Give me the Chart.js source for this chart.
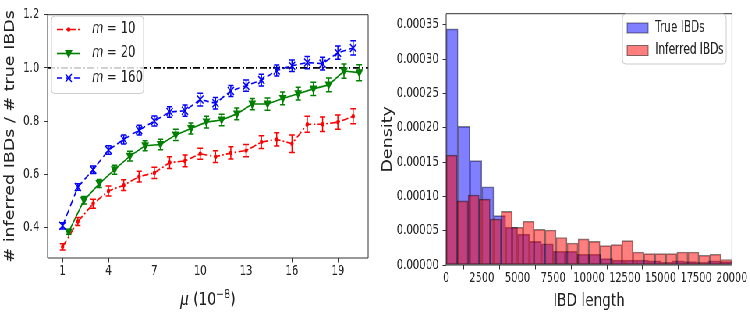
<!DOCTYPE html>
<html>
<head>
<meta charset="utf-8">
<title>IBD charts</title>
<script src="https://cdn.jsdelivr.net/npm/chart.js@4/dist/chart.umd.min.js"></script>
<style>
html, body { margin: 0; padding: 0; background: #fff; overflow: hidden; }
/* the figure looks squeezed sideways, so draw wide and squeeze it */
#wrap { position: absolute; left: 0; top: 0; width: 962px; height: 315px; transform: scaleX(0.78); transform-origin: 0 0; }
#wrap canvas { position: absolute; top: 0; }
</style>
</head>
<body>
<div id="wrap">
  <canvas id="left" width="481" height="315" style="left:0"></canvas>
  <canvas id="right" width="481" height="315" style="left:481px"></canvas>
</div>
<script>
// left panel: ratio of inferred to true IBD counts
const muInt = [1, 2, 3, 4, 5, 6, 7, 8, 9, 10, 11, 12, 13, 14, 15, 16, 17, 18, 19, 20];
const muShift = [1.4, 2.4, 3.4, 4.4, 5.4, 6.4, 7.4, 8.4, 9.4, 10.4, 11.4, 12.4, 13.4, 14.4, 15.4, 16.4, 17.4, 18.4, 19.4, 20.4];
const m10 = [0.327, 0.422, 0.489, 0.537, 0.559, 0.591, 0.605, 0.644, 0.650, 0.677, 0.666, 0.680, 0.689, 0.721, 0.731, 0.715, 0.788, 0.788, 0.796, 0.818];
const m10Err = [0.012, 0.015, 0.017, 0.019, 0.020, 0.020, 0.021, 0.022, 0.022, 0.021, 0.022, 0.023, 0.023, 0.024, 0.025, 0.033, 0.030, 0.027, 0.027, 0.028];
const m20 = [0.383, 0.502, 0.565, 0.617, 0.668, 0.707, 0.712, 0.748, 0.772, 0.796, 0.804, 0.827, 0.864, 0.864, 0.885, 0.903, 0.921, 0.936, 0.988, 0.982];
const m20Err = [0.009, 0.014, 0.015, 0.017, 0.018, 0.019, 0.020, 0.021, 0.021, 0.022, 0.022, 0.022, 0.021, 0.023, 0.024, 0.024, 0.025, 0.026, 0.027, 0.030];
const m160 = [0.406, 0.552, 0.617, 0.691, 0.731, 0.766, 0.800, 0.834, 0.839, 0.881, 0.867, 0.913, 0.933, 0.954, 0.990, 1.008, 1.020, 1.016, 1.057, 1.075];
const m160Err = [0.012, 0.012, 0.014, 0.016, 0.017, 0.018, 0.019, 0.020, 0.021, 0.024, 0.022, 0.021, 0.021, 0.022, 0.021, 0.022, 0.023, 0.024, 0.025, 0.027];
const muTicks = [1, 4, 7, 10, 13, 16, 19];
const ratioTicks = [0.4, 0.6, 0.8, 1.0, 1.2];

// right panel: IBD length histograms (density)
const trueBins = [0, 833, 1667, 2500, 3333, 4167, 5000, 5833, 6667, 7500, 8333, 9167, 10000, 10833, 11667, 12500, 13333, 14167, 15000, 15833, 16667, 17500, 18333, 19167];
const trueDensity = [0.000344, 0.000202, 0.000152, 0.000114, 0.000072, 0.000055, 0.000045, 0.0000345, 0.000031, 0.000020, 0.000020, 0.0000156, 0.0000156, 0.0000094, 0.000007, 0.000007, 0.000007, 0.000006, 0.000004, 0.000006, 0.000005, 0.000004, 0.000006, 0.000005];
const inferredBins = [0, 769, 1538, 2308, 3077, 3846, 4615, 5385, 6154, 6923, 7692, 8462, 9231, 10000, 10769, 11538, 12308, 13077, 13846, 14615, 15385, 16154, 16923, 17692, 18462, 19231];
const inferredDensity = [0.000160, 0.0000935, 0.000102, 0.000096, 0.000067, 0.000078, 0.000055, 0.0000637, 0.000052, 0.000051, 0.000040, 0.000032, 0.000038, 0.0000345, 0.0000283, 0.0000297, 0.0000354, 0.0000189, 0.0000165, 0.0000165, 0.0000165, 0.0000189, 0.0000189, 0.0000142, 0.0000156, 0.000008];
const lengthTicks = [0, 2500, 5000, 7500, 10000, 12500, 15000, 17500, 20000];
const densityTicks = [0, 0.00005, 0.0001, 0.00015, 0.0002, 0.00025, 0.0003, 0.00035];

const SANS = "'DejaVu Sans', sans-serif";
const NARROW = "'DejaVu Sans Condensed', 'Liberation Sans Narrow', 'DejaVu Sans', sans-serif";
const INK = '#222';

// box around the plot area
const frame = {
  id: 'frame',
  afterDraw(chart, args, opts) {
    const { ctx, chartArea: a } = chart;
    ctx.save();
    ctx.lineWidth = 1;
    ctx.strokeStyle = '#333';
    ctx.beginPath();
    ctx.moveTo(a.right, a.top); ctx.lineTo(a.left, a.top);
    ctx.lineTo(a.left, a.bottom); ctx.lineTo(a.right, a.bottom);
    ctx.stroke();
    ctx.strokeStyle = opts.rightColor || '#333';
    ctx.beginPath();
    ctx.moveTo(a.right, a.top); ctx.lineTo(a.right, a.bottom);
    ctx.stroke();
    ctx.restore();
  }
};

// dash-dot line at ratio 1
const refLine = {
  id: 'refLine',
  beforeDatasetsDraw(chart) {
    const { ctx, chartArea: a } = chart;
    const y = chart.scales.y.getPixelForValue(1.0);
    ctx.save();
    ctx.strokeStyle = '#000';
    ctx.lineWidth = 1.6;
    ctx.setLineDash([9, 3, 2, 3]);
    ctx.beginPath(); ctx.moveTo(a.left, y); ctx.lineTo(a.right, y); ctx.stroke();
    ctx.restore();
  }
};

// x title with italic mu and a real superscript
const muTitle = {
  id: 'muTitle',
  afterDraw(chart) {
    const { ctx, chartArea: a } = chart;
    const big = '17.5px ' + SANS, small = '12.5px ' + SANS;
    const parts = [
      ['μ', 'italic ' + big, 0],
      [' (10', big, 0],
      ['−8', small, -7],
      [')', big, 0]
    ];
    ctx.save();
    let total = 0;
    parts.forEach(p => { ctx.font = p[1]; total += ctx.measureText(p[0]).width; });
    let x = (a.left + a.right) / 2 - total / 2;
    const y = 305;
    ctx.fillStyle = INK; ctx.textBaseline = 'alphabetic';
    parts.forEach(p => {
      ctx.font = p[1];
      ctx.fillText(p[0], x, y + p[2]);
      x += ctx.measureText(p[0]).width;
    });
    ctx.restore();
  }
};

function drawMarker(ctx, kind, x, y, color) {
  ctx.save();
  ctx.setLineDash([]);
  ctx.fillStyle = color; ctx.strokeStyle = color;
  if (kind === 'dot') {
    ctx.beginPath(); ctx.arc(x, y, 2.2, 0, Math.PI * 2); ctx.fill();
  } else if (kind === 'tri') {
    ctx.beginPath(); ctx.moveTo(x - 5, y - 3.5); ctx.lineTo(x + 5, y - 3.5); ctx.lineTo(x, y + 5); ctx.closePath(); ctx.fill();
  } else {
    ctx.lineWidth = 1.5;
    ctx.beginPath(); ctx.moveTo(x - 4, y - 4); ctx.lineTo(x + 4, y + 4); ctx.moveTo(x - 4, y + 4); ctx.lineTo(x + 4, y - 4); ctx.stroke();
  }
  ctx.restore();
}

// error bars with caps, plus markers on top
const errorBars = {
  id: 'errorBars',
  afterDatasetsDraw(chart) {
    const ctx = chart.ctx, xs = chart.scales.x, ys = chart.scales.y;
    chart.data.datasets.forEach(ds => {
      ctx.save();
      ctx.strokeStyle = ds.borderColor;
      ctx.lineWidth = 1.5;
      ds.data.forEach((p, i) => {
        const px = xs.getPixelForValue(p.x);
        const lo = ys.getPixelForValue(p.y - ds.err[i]);
        const hi = ys.getPixelForValue(p.y + ds.err[i]);
        ctx.beginPath();
        ctx.moveTo(px, lo); ctx.lineTo(px, hi);
        ctx.moveTo(px - 3.5, lo); ctx.lineTo(px + 3.5, lo);
        ctx.moveTo(px - 3.5, hi); ctx.lineTo(px + 3.5, hi);
        ctx.stroke();
        drawMarker(ctx, ds.marker, px, ys.getPixelForValue(p.y), ds.borderColor);
      });
      ctx.restore();
    });
  }
};

function roundBox(ctx, x, y, w, h, r) {
  ctx.beginPath();
  ctx.moveTo(x + r, y); ctx.lineTo(x + w - r, y); ctx.quadraticCurveTo(x + w, y, x + w, y + r);
  ctx.lineTo(x + w, y + h - r); ctx.quadraticCurveTo(x + w, y + h, x + w - r, y + h);
  ctx.lineTo(x + r, y + h); ctx.quadraticCurveTo(x, y + h, x, y + h - r);
  ctx.lineTo(x, y + r); ctx.quadraticCurveTo(x, y, x + r, y);
  ctx.closePath();
}

const lineLegend = {
  id: 'lineLegend',
  afterDraw(chart) {
    const ctx = chart.ctx;
    ctx.save();
    roundBox(ctx, 66, 16, 118, 77.5, 4);
    ctx.fillStyle = 'rgba(255,255,255,0.8)'; ctx.fill();
    ctx.strokeStyle = '#cccccc'; ctx.lineWidth = 1; ctx.stroke();
    const rows = [29.5, 53.5, 78];
    chart.data.datasets.forEach((ds, i) => {
      const y = rows[i];
      ctx.strokeStyle = ds.borderColor; ctx.lineWidth = 1.6;
      ctx.setLineDash(ds.borderDash || []);
      ctx.beginPath(); ctx.moveTo(73, y); ctx.lineTo(103, y); ctx.stroke();
      drawMarker(ctx, ds.marker, 88, y, ds.borderColor);
      ctx.fillStyle = INK; ctx.textBaseline = 'middle';
      ctx.font = 'italic 15px ' + SANS;
      ctx.fillText('m', 118, y);
      const w = ctx.measureText('m').width;
      ctx.font = '15px ' + SANS;
      ctx.fillText(' = ' + ds.label, 118 + w, y);
    });
    ctx.restore();
  }
};

const histLegend = {
  id: 'histLegend',
  afterDraw(chart) {
    const ctx = chart.ctx;
    ctx.save();
    roundBox(ctx, 317, 14, 133, 50, 4);
    ctx.fillStyle = 'rgba(255,255,255,0.8)'; ctx.fill();
    ctx.strokeStyle = '#cccccc'; ctx.lineWidth = 1; ctx.stroke();
    const rows = [28, 50.5];
    chart.data.datasets.forEach((ds, i) => {
      const y = rows[i];
      ctx.fillStyle = ds.backgroundColor;
      ctx.fillRect(323, y - 5, 27, 10);
      ctx.strokeStyle = ds.borderColor; ctx.strokeRect(323, y - 5, 27, 10);
      ctx.fillStyle = INK; ctx.textBaseline = 'middle';
      ctx.font = '15px ' + NARROW;
      ctx.fillText(ds.label, 359, y);
    });
    ctx.restore();
  }
};

const tickGrid = { display: true, drawOnChartArea: false, tickLength: 4.5, color: '#333' };

new Chart(document.getElementById('left'), {
  type: 'line',
  data: {
    datasets: [
      { label: '10', marker: 'dot', data: muInt.map((x, i) => ({ x, y: m10[i] })), err: m10Err,
        borderColor: '#ff0000', borderWidth: 1.6, borderDash: [8, 3, 2, 3] },
      { label: '20', marker: 'tri', data: muShift.map((x, i) => ({ x, y: m20[i] })), err: m20Err,
        borderColor: '#008000', borderWidth: 1.6 },
      { label: '160', marker: 'x', data: muInt.map((x, i) => ({ x, y: m160[i] })), err: m160Err,
        borderColor: '#0000ff', borderWidth: 1.6, borderDash: [7, 4] }
    ]
  },
  options: {
    responsive: false, animation: false, events: [],
    elements: { point: { radius: 0 }, line: { tension: 0, fill: false } },
    layout: { padding: { top: 9, right: 9, left: 0, bottom: 0 } },
    plugins: { legend: { display: false }, tooltip: { enabled: false } },
    scales: {
      x: {
        type: 'linear', min: 0.02, max: 20.98,
        afterBuildTicks: s => { s.ticks = muTicks.map(v => ({ value: v })); },
        afterFit: s => { s.height = 57; },
        grid: tickGrid, border: { display: false },
        ticks: { color: INK, font: { family: NARROW, size: 14.5 }, padding: 0, maxRotation: 0, autoSkip: false }
      },
      y: {
        min: 0.285, max: 1.2,
        afterBuildTicks: s => { s.ticks = ratioTicks.map(v => ({ value: v })); },
        afterFit: s => { s.width = 61; },
        grid: tickGrid, border: { display: false },
        ticks: { color: INK, font: { family: NARROW, size: 14.5 }, padding: 6, callback: v => v.toFixed(1) },
        title: { display: true, text: '# inferred IBDs / # true IBDs', color: INK, font: { family: SANS, size: 17.5 }, padding: { top: 3, bottom: 0 } }
      }
    }
  },
  plugins: [refLine, errorBars, frame, lineLegend, muTitle]
});

new Chart(document.getElementById('right'), {
  type: 'bar',
  data: {
    datasets: [
      { label: 'True IBDs', data: trueDensity, xAxisID: 'xTrue', order: 2,
        backgroundColor: 'rgba(0,0,255,0.5)', borderColor: 'rgba(0,0,0,0.5)' },
      { label: 'Inferred IBDs', data: inferredDensity, xAxisID: 'xInferred', order: 1,
        backgroundColor: 'rgba(255,0,0,0.5)', borderColor: 'rgba(0,0,0,0.5)' }
    ]
  },
  options: {
    responsive: false, animation: false, events: [],
    datasets: { bar: { barPercentage: 1, categoryPercentage: 1, borderWidth: 1, borderSkipped: false, grouped: false } },
    layout: { padding: { top: 6.7, right: 23.7, left: 0, bottom: 0 } },
    plugins: { legend: { display: false }, tooltip: { enabled: false }, frame: { rightColor: '#aaaaaa' } },
    scales: {
      xTrue: { type: 'category', labels: trueBins.map(String), offset: true, display: false },
      xInferred: { type: 'category', labels: inferredBins.map(String), offset: true, display: false },
      x: {
        type: 'linear', position: 'bottom', min: 0, max: 20000, offset: false,
        afterBuildTicks: s => { s.ticks = lengthTicks.map(v => ({ value: v })); },
        afterFit: s => { s.height = 50; },
        grid: tickGrid, border: { display: false },
        ticks: { color: INK, font: { family: NARROW, size: 14 }, padding: 0, maxRotation: 0, autoSkip: false, callback: v => String(v) },
        title: { display: true, text: 'IBD length', color: INK, font: { family: SANS, size: 17.5 }, padding: { top: 0, bottom: 3 } }
      },
      y: {
        min: 0, max: 0.000366,
        afterBuildTicks: s => { s.ticks = densityTicks.map(v => ({ value: v })); },
        afterFit: s => { s.width = 91; },
        grid: tickGrid, border: { display: false },
        ticks: { color: INK, font: { family: NARROW, size: 14.5 }, padding: 5, callback: v => v.toFixed(5) },
        title: { display: true, text: 'Density', color: INK, font: { family: SANS, size: 17.5 }, padding: { top: 6, bottom: 0 } }
      }
    }
  },
  plugins: [frame, histLegend]
});
</script>
</body>
</html>
